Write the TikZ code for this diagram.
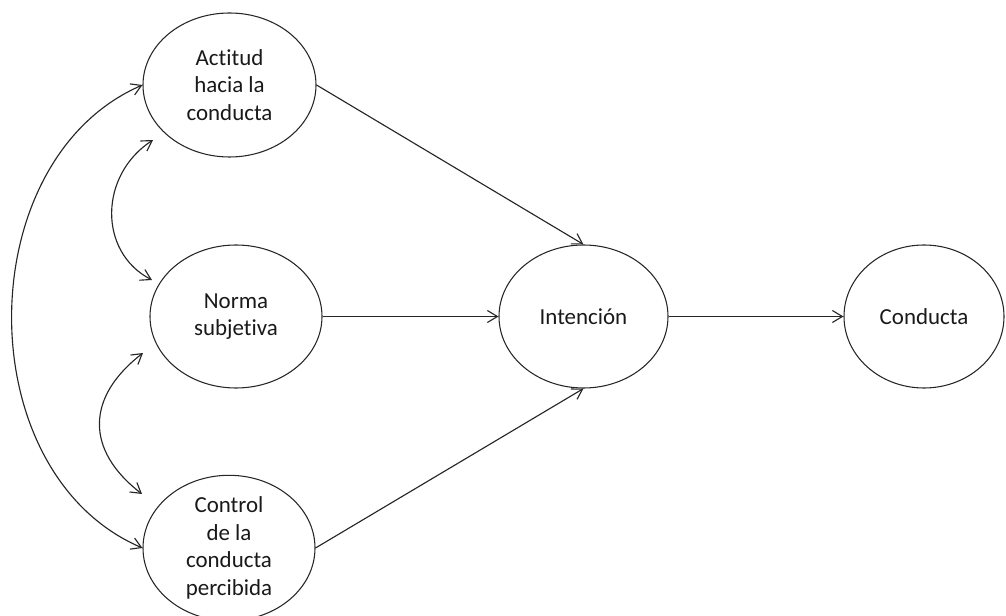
\documentclass[tikz,border=0pt]{standalone}
\usepackage{fontspec}
\setmainfont{Carlito}[RawFeature={-liga}]
\usetikzlibrary{shapes.geometric,arrows.meta,calc}

\tikzset{
  construct/.style={draw=black!85, line width=0.8pt, ellipse, inner sep=0pt,
    align=center, font=\fontsize{17.2pt}{20.8pt}\selectfont, text=black!90},
  link/.style={draw=black!85, line width=0.85pt,
    -{Straight Barb[length=7.5pt,width=9pt]}},
  corr/.style={draw=black!85, line width=0.85pt,
    {Straight Barb[length=7.5pt,width=9pt]}-{Straight Barb[length=7.5pt,width=9pt]}}
}

\begin{document}
\begin{tikzpicture}[x=0.75pt,y=-0.75pt]
\useasboundingbox (0,0) rectangle (1006,616);

% Constructs of the model
\node[construct, minimum width=129.75pt, minimum height=108pt] (act) at (229.5,85)
  {Actitud\\hacia la\\conducta};
\node[construct, minimum width=129pt, minimum height=107.25pt] (nor) at (236,316.5)
  {Norma\\subjetiva};
\node[construct, minimum width=129pt, minimum height=108pt] (ctl) at (229,548)
  {Control\\de la\\conducta\\percibida};
\node[construct, minimum width=126.75pt, minimum height=107.25pt] (int) at (583.5,316.5)
  {Intención};
\node[construct, minimum width=120pt, minimum height=107.25pt] (cnd) at (924,316.5)
  {Conducta};

% Direct effects
\draw[link] (act.east) -- (int.north);
\draw[link] (nor.east) -- (int.west);
\draw[link] (ctl.east) -- (int.south);
\draw[link] (int.east) -- (cnd.west);

% Correlations between the antecedents
\draw[corr] (act.west) .. controls +(-173,75) and +(-175,-75) .. (ctl.west);
\draw[corr] ($(act.center)+(-76.5,55)$) .. controls +(-54,35) and +(-54,-28)
  .. ($(nor.center)+(-84,-36.5)$);
\draw[corr] ($(nor.center)+(-93,36.5)$) .. controls +(-57,44) and +(-57,-44)
  .. ($(ctl.center)+(-87,-54)$);
\end{tikzpicture}
\end{document}
